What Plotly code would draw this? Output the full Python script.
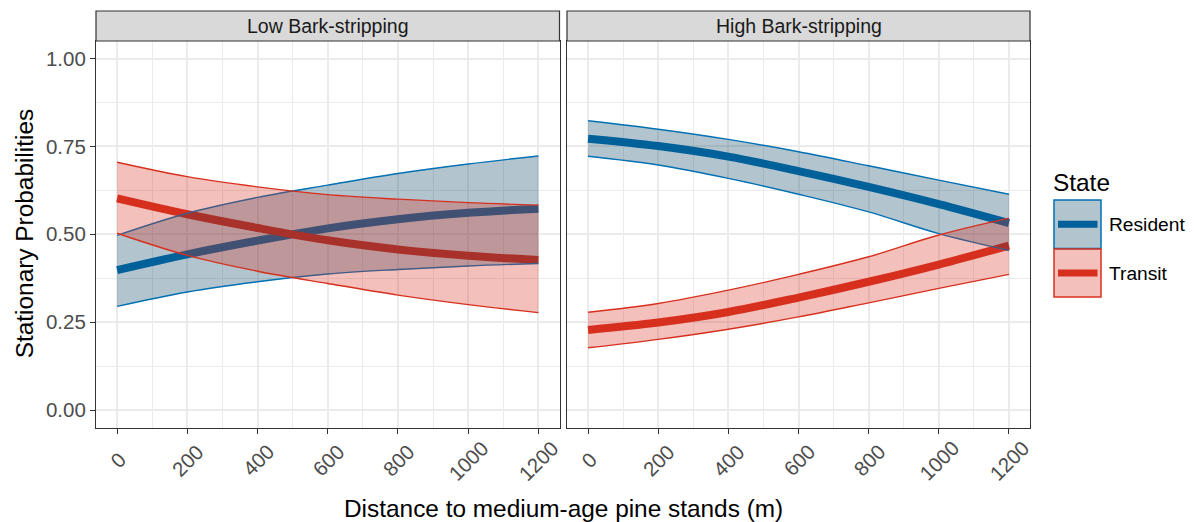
import plotly.graph_objects as go

# ---------------- data ----------------
distance = [0, 200, 400, 600, 800, 1000, 1200]
panels = ["Low Bark-stripping", "High Bark-stripping"]
states = ["Resident", "Transit"]

low_resident_mean = [0.398, 0.443, 0.482, 0.517, 0.543, 0.561, 0.573]
low_resident_lower = [0.295, 0.336, 0.365, 0.387, 0.400, 0.410, 0.417]
low_resident_upper = [0.497, 0.560, 0.605, 0.640, 0.673, 0.700, 0.723]
low_transit_mean = [0.602, 0.557, 0.518, 0.483, 0.457, 0.439, 0.427]
low_transit_lower = [0.503, 0.440, 0.395, 0.360, 0.327, 0.300, 0.277]
low_transit_upper = [0.705, 0.664, 0.635, 0.613, 0.600, 0.590, 0.583]

high_resident_mean = [0.772, 0.751, 0.721, 0.680, 0.635, 0.586, 0.532]
high_resident_lower = [0.722, 0.697, 0.659, 0.614, 0.564, 0.502, 0.454]
high_resident_upper = [0.823, 0.799, 0.770, 0.735, 0.695, 0.654, 0.614]
high_transit_mean = [0.228, 0.249, 0.279, 0.320, 0.365, 0.414, 0.468]
high_transit_lower = [0.177, 0.201, 0.230, 0.265, 0.305, 0.346, 0.386]
high_transit_upper = [0.278, 0.303, 0.341, 0.386, 0.436, 0.498, 0.546]

x_ticks = [0, 200, 400, 600, 800, 1000, 1200]
y_ticks = [0, 0.25, 0.5, 0.75, 1.0]
y_ticklabels = ["0.00", "0.25", "0.50", "0.75", "1.00"]

# ---------------- styles ----------------
PAGE_W, PAGE_H = 1194, 522
OFF = 8  # default body margin of the html page
W, H = PAGE_W - OFF, PAGE_H - OFF
FONT = "Liberation Sans"
line_col = {"Resident": "#0070B4", "Transit": "#D7301F"}
fill_col = {"Resident": "rgba(0,58,92,0.3)", "Transit": "rgba(215,48,31,0.3)"}

data = {
    0: {"Resident": (low_resident_mean, low_resident_lower, low_resident_upper),
        "Transit": (low_transit_mean, low_transit_lower, low_transit_upper)},
    1: {"Resident": (high_resident_mean, high_resident_lower, high_resident_upper),
        "Transit": (high_transit_mean, high_transit_lower, high_transit_upper)},
}


def px_x(p):
    return (p - OFF) / W


def px_y(p):
    return 1 - (p - OFF) / H


panel_x = [(96, 559.5), (567, 1030)]
panel_top, panel_bot = 41, 427.6
strip_top = 11

fig = go.Figure()

for i in range(2):
    xa = "x" if i == 0 else "x2"
    ya = "y" if i == 0 else "y2"
    # main lines first
    for s in states:
        m, lo, up = data[i][s]
        fig.add_trace(go.Scatter(x=distance, y=m, mode="lines", xaxis=xa, yaxis=ya,
                                 line=dict(color=line_col[s], width=8, shape="spline"),
                                 showlegend=False, hoverinfo="skip"))
    # ribbons after (drawn over the lines)
    for s in states:
        m, lo, up = data[i][s]
        fig.add_trace(go.Scatter(x=distance, y=lo, mode="lines", xaxis=xa, yaxis=ya,
                                 line=dict(color=line_col[s], width=1.4, shape="spline"),
                                 showlegend=False, hoverinfo="skip"))
        fig.add_trace(go.Scatter(x=distance, y=up, mode="lines", xaxis=xa, yaxis=ya,
                                 fill="tonexty", fillcolor=fill_col[s],
                                 line=dict(color=line_col[s], width=1.4, shape="spline"),
                                 showlegend=False, hoverinfo="skip"))

axis_common = dict(
    showgrid=True, gridcolor="#EBEBEB", gridwidth=1.8,
    showline=True, linecolor="#333333", linewidth=1.2, mirror=True,
    ticks="outside", ticklen=5, tickcolor="#333333", tickwidth=1.2,
    zeroline=False, automargin=False,
    tickfont=dict(family=FONT, size=20.5, color="#4D4D4D"),
)

ydom = [px_y(panel_bot), px_y(panel_top)]
layout_axes = {}
for i in range(2):
    xname = "xaxis" if i == 0 else "xaxis2"
    yname = "yaxis" if i == 0 else "yaxis2"
    layout_axes[xname] = dict(
        axis_common, domain=[px_x(panel_x[i][0]), px_x(panel_x[i][1])],
        range=[-60, 1260], tickmode="array", tickvals=x_ticks,
        showticklabels=False,
        anchor="y" if i == 0 else "y2",
        minor=dict(tickvals=[100, 300, 500, 700, 900, 1100], showgrid=True,
                   gridcolor="#EBEBEB", gridwidth=0.9, ticklen=0),
    )
    layout_axes[yname] = dict(
        axis_common, domain=ydom, range=[-0.05, 1.05], tickmode="array",
        tickvals=y_ticks, ticktext=y_ticklabels, showticklabels=(i == 0),
        ticks="outside" if i == 0 else "",
        anchor="x" if i == 0 else "x2",
        minor=dict(tickvals=[0.125, 0.375, 0.625, 0.875], showgrid=True,
                   gridcolor="#EBEBEB", gridwidth=0.9, ticklen=0),
    )

shapes = []
annotations = []
# strips
for i in range(2):
    x0, x1 = panel_x[i]
    shapes.append(dict(type="rect", xref="paper", yref="paper",
                       x0=px_x(x0), x1=px_x(x1), y0=px_y(panel_top), y1=px_y(strip_top),
                       fillcolor="#D9D9D9", line=dict(color="#333333", width=1.2)))
    annotations.append(dict(text=panels[i], xref="paper", yref="paper",
                            x=px_x((x0 + x1) / 2), y=px_y((panel_top + strip_top) / 2),
                            xanchor="center", yanchor="middle", showarrow=False,
                            font=dict(family=FONT, size=19.5, color="#1A1A1A")))
    # rotated x tick labels, centred under each tick (ggplot style)
    for v in x_ticks:
        annotations.append(dict(text=str(v), xref="x" if i == 0 else "x2", yref="paper",
                                x=v, y=px_y(460), textangle=-45,
                                xanchor="center", yanchor="middle", showarrow=False,
                                font=dict(family=FONT, size=20.5, color="#4D4D4D")))

# axis titles
annotations.append(dict(text="Stationary Probabilities", xref="paper", yref="paper",
                        x=px_x(24), y=px_y((panel_top + panel_bot) / 2), textangle=-90,
                        xanchor="center", yanchor="middle", showarrow=False,
                        font=dict(family=FONT, size=24.4, color="#000000")))
annotations.append(dict(text="Distance to medium-age pine stands (m)", xref="paper", yref="paper",
                        x=px_x(563), y=px_y(508), xanchor="center", yanchor="middle",
                        showarrow=False, font=dict(family=FONT, size=24.4, color="#000000")))

# legend (drawn manually, ggplot-style keys)
annotations.append(dict(text="State", xref="paper", yref="paper", x=px_x(1051), y=px_y(182),
                        xanchor="left", yanchor="middle", showarrow=False,
                        font=dict(family=FONT, size=24.4, color="#000000")))
key_rows = [(200, 248.5), (249, 297)]
for k, s in enumerate(states):
    t, b = key_rows[k]
    cy = (t + b) / 2
    shapes.append(dict(type="line", xref="paper", yref="paper",
                       x0=px_x(1058), x1=px_x(1097.5), y0=px_y(cy), y1=px_y(cy),
                       line=dict(color=line_col[s], width=7)))
    shapes.append(dict(type="rect", xref="paper", yref="paper",
                       x0=px_x(1054), x1=px_x(1101), y0=px_y(b), y1=px_y(t),
                       fillcolor=fill_col[s], line=dict(color=line_col[s], width=1.5)))
    annotations.append(dict(text=s, xref="paper", yref="paper", x=px_x(1106.5), y=px_y(cy),
                            xanchor="left", yanchor="middle", showarrow=False,
                            font=dict(family=FONT, size=19.2, color="#000000")))

fig.update_layout(
    width=W, height=H, margin=dict(l=0, r=0, t=0, b=0),
    paper_bgcolor="white", plot_bgcolor="white",
    font=dict(family=FONT), showlegend=False,
    shapes=shapes, annotations=annotations, **layout_axes,
)

fig.write_html("out.html")
